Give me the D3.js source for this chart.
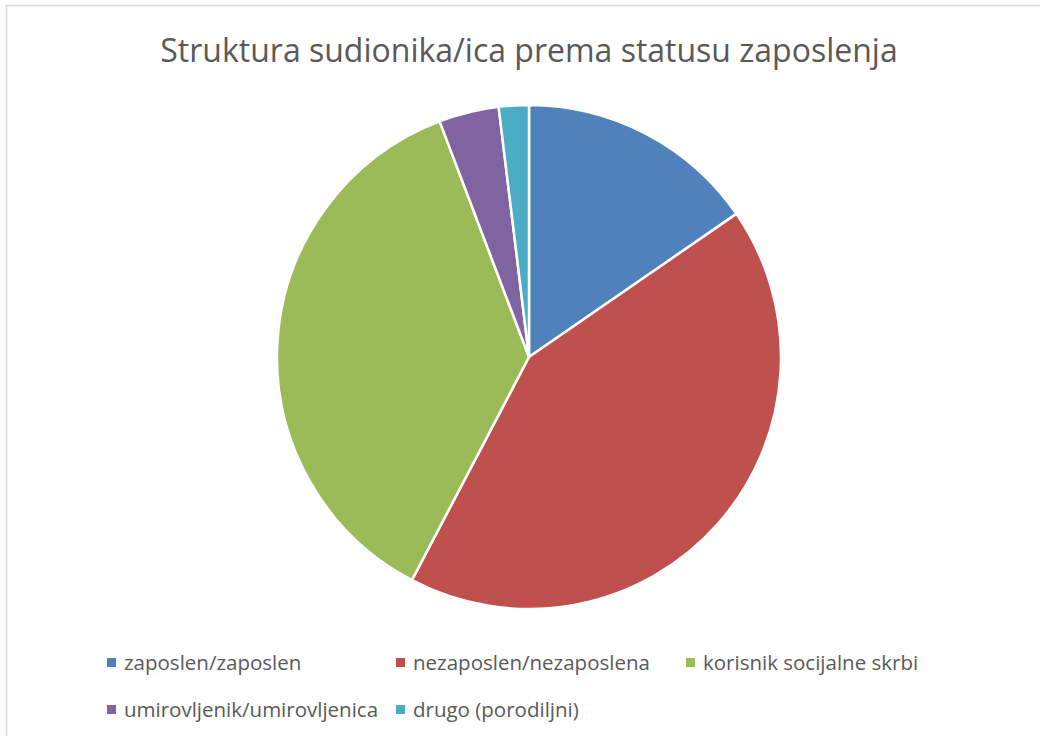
<!DOCTYPE html>
<html>
<head>
<meta charset="utf-8">
<title>Struktura sudionika/ica prema statusu zaposlenja</title>
<script src="https://d3js.org/d3.v7.min.js"></script>
<style>
  body { margin: 0; background: #fff; }
  svg { display: block; font-family: "Open Sans", "Noto Sans", sans-serif; }
</style>
</head>
<body>
<svg id="chart" width="1040" height="736"></svg>
<script>
// data (counts)
var categories = ["zaposlen/zaposlen", "nezaposlen/nezaposlena", "korisnik socijalne skrbi",
                  "umirovljenik/umirovljenica", "drugo (porodiljni)"];
var values = [8, 22, 19, 2, 1];
var colours = ["#4F81BD", "#C0504D", "#9BBB59", "#8064A2", "#4BACC6"];
var title = "Struktura sudionika/ica prema statusu zaposlenja";

var svg = d3.select("#chart");

// chart frame
svg.append("rect")
  .attr("x", 6.5).attr("y", 5.5)
  .attr("width", 1040).attr("height", 740)
  .attr("fill", "none")
  .attr("stroke", "#d9d9d9")
  .attr("stroke-width", 1.5);

svg.append("text")
  .attr("x", 529).attr("y", 62)
  .attr("text-anchor", "middle")
  .attr("fill", "#595959")
  .style("font-size", "32px")
  .text(title);

var pie = d3.pie().sort(null).value(function(d) { return d; });
var arc = d3.arc().innerRadius(0).outerRadius(252);

svg.append("g")
  .attr("transform", "translate(529,357)")
  .selectAll("path")
  .data(pie(values))
  .enter().append("path")
  .attr("d", arc)
  .attr("fill", function(d, i) { return colours[i]; })
  .attr("stroke", "#fff")
  .attr("stroke-width", 2.5)
  .attr("stroke-linejoin", "round");

// legend, two rows like the original
var legendX = [107, 396, 686, 107, 396];
var legendY = [663, 663, 663, 710, 710];

var leg = svg.append("g")
  .selectAll("g")
  .data(categories)
  .enter().append("g")
  .attr("transform", function(d, i) { return "translate(" + legendX[i] + "," + legendY[i] + ")"; });

leg.append("rect")
  .attr("x", 0).attr("y", -5)
  .attr("width", 9).attr("height", 9)
  .attr("fill", function(d, i) { return colours[i]; });

leg.append("text")
  .attr("x", 17).attr("y", 0)
  .attr("dy", "0.35em")
  .attr("fill", "#595959")
  .style("font-size", "20.5px")
  .text(function(d) { return d; });
</script>
</body>
</html>
